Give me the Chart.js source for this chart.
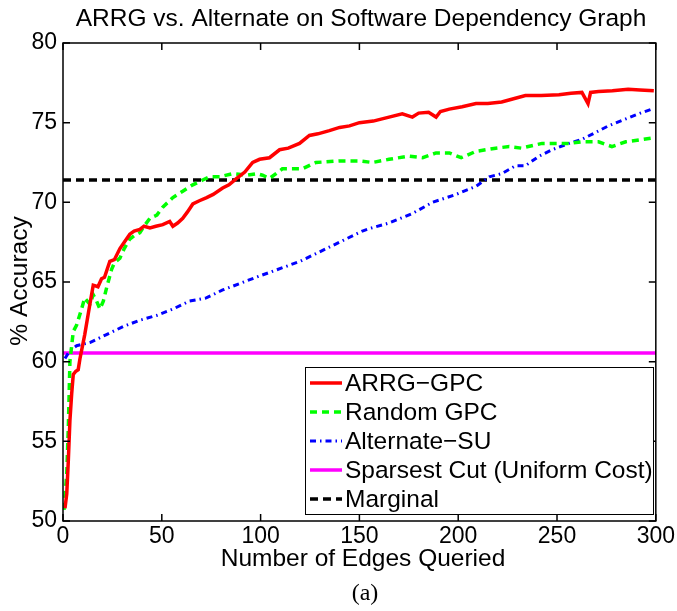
<!DOCTYPE html>
<html>
<head>
<meta charset="utf-8">
<script src="https://cdn.jsdelivr.net/npm/chart.js@4/dist/chart.umd.min.js"></script>
<style>
	body { margin: 0; background: #fff; }
</style>
</head>
<body>
<canvas id="accuracy-chart" width="677" height="611"></canvas>
<script>
( function() {
	'use strict';

	// ARRG-GPC (red, solid)
	var arrgX = [1, 1.9, 2.7, 3.5, 4.4, 5.2, 6.5, 7.7, 8.6, 11, 13.6, 15.3, 17.7, 19.5, 21, 23.7, 26, 28.8, 31, 33.8, 36, 38.9, 41, 44, 47, 50.5, 54, 55.6, 58, 60.6, 63, 65.7, 69, 72.7, 76, 80.8, 84, 87.9, 92, 96, 99.5, 104.5, 109.6, 114, 119.7, 124.7, 129, 134.8, 140, 145, 150, 157, 165, 171.7, 176.8, 180, 185, 188.8, 191, 195.5, 202, 209, 215, 222, 228, 234, 242, 251, 257, 262.6, 265.7, 267, 271, 278, 286, 292, 299];
	var arrgY = [50.8, 51.7, 53.8, 56.3, 58.0, 59.2, 59.4, 59.5, 60.2, 61.7, 63.6, 64.8, 64.7, 65.2, 65.3, 66.3, 66.4, 67.1, 67.5, 68.0, 68.2, 68.3, 68.5, 68.4, 68.5, 68.6, 68.8, 68.5, 68.7, 69.0, 69.4, 69.9, 70.1, 70.3, 70.5, 70.9, 71.1, 71.5, 71.9, 72.5, 72.7, 72.8, 73.3, 73.4, 73.7, 74.2, 74.3, 74.5, 74.7, 74.8, 75.0, 75.1, 75.35, 75.55, 75.35, 75.6, 75.65, 75.35, 75.7, 75.85, 76.0, 76.2, 76.2, 76.3, 76.5, 76.7, 76.7, 76.75, 76.85, 76.9, 76.2, 76.9, 76.95, 77.0, 77.1, 77.05, 77.0];

	// Random GPC (green, dashed)
	var randomX = [0.5, 1.9, 2.7, 3.5, 5.2, 6.9, 9.4, 11, 13.6, 15.3, 17, 18.7, 20.4, 22, 24.6, 26, 28.8, 31, 33.8, 36, 38.9, 41, 44, 47.5, 50.5, 55.6, 60.6, 65.7, 70.7, 74.2, 79.3, 85.9, 92.9, 98, 101, 104.5, 111, 121, 128, 140, 150, 156.6, 165, 175, 182, 188.8, 195.5, 201.5, 209, 219, 225.8, 232, 242.4, 256, 262.6, 271, 277.8, 284.8, 299];
	var randomY = [50.7, 53.0, 55.9, 60.0, 61.9, 62.3, 63.3, 64.0, 63.6, 64.2, 63.8, 63.3, 63.8, 64.6, 65.8, 66.2, 66.5, 67.1, 67.7, 67.9, 68.1, 68.5, 69.0, 69.2, 69.7, 70.3, 70.7, 71.1, 71.4, 71.6, 71.6, 71.8, 71.7, 71.8, 71.7, 71.5, 72.1, 72.1, 72.5, 72.6, 72.6, 72.5, 72.7, 72.9, 72.8, 73.1, 73.1, 72.8, 73.2, 73.4, 73.5, 73.4, 73.7, 73.7, 73.8, 73.8, 73.5, 73.8, 74.05];

	// Alternate-SU (blue, dash-dot)
	var altX = [1, 3.5, 6.9, 13.6, 22, 30.4, 38.9, 47.3, 55.6, 64, 72.5, 80.8, 89.4, 97.8, 104.5, 120, 135, 151.5, 155, 165, 176.8, 187, 199, 209, 215.7, 222, 229, 234, 241, 247.5, 256, 262.6, 269.7, 276, 283, 290, 298];
	var altY = [60.2, 60.7, 61.0, 61.2, 61.7, 62.2, 62.6, 62.9, 63.3, 63.8, 64.0, 64.5, 64.9, 65.3, 65.6, 66.3, 67.2, 68.2, 68.35, 68.7, 69.3, 70.0, 70.5, 71.0, 71.6, 71.8, 72.3, 72.3, 72.9, 73.3, 73.7, 73.95, 74.4, 74.8, 75.15, 75.5, 75.85];

	// constant baselines
	var sparsestValue = 60.55;
	var marginalValue = 71.4;

	var xTicks = [0, 50, 100, 150, 200, 250, 300];
	var yTicks = [50, 55, 60, 65, 70, 75, 80];

	var labels = ["ARRG\u2212GPC", "Random GPC", "Alternate\u2212SU", "Sparsest Cut (Uniform Cost)", "Marginal"];
	var colors = ["#ff0000", "#00ff00", "#0000ff", "#ff00ff", "#000000"];
	var dashes = [[], [7, 5], [6, 4, 1.5, 4], [], [8, 5]];
	var widths = [3.5, 3.5, 3, 3.5, 3.5];

	var tickFont = { family: "'Liberation Sans Narrow', 'Liberation Sans', Arial, sans-serif", size: 23 };
	var textFont = "'Liberation Sans', Arial, sans-serif";

	function points(xs, ys) {
		return xs.map(function(x, i) { return { x: x, y: ys[i] }; });
	}

	function flat(value) {
		return [{ x: xTicks[0], y: value }, { x: xTicks[xTicks.length - 1], y: value }];
	}

	var series = [
		points(arrgX, arrgY),
		points(randomX, randomY),
		points(altX, altY),
		flat(sparsestValue),
		flat(marginalValue)
	];

	var datasets = series.map(function(data, i) {
		return {
			label: labels[i],
			data: data,
			borderColor: colors[i],
			backgroundColor: colors[i],
			borderWidth: widths[i],
			borderDash: dashes[i],
			pointRadius: 0,
			tension: 0,
			fill: false
		};
	});
	// draw order: baselines under the curves like in the figure
	datasets[3].order = 4;
	datasets[4].order = 3;
	datasets[2].order = 2;
	datasets[1].order = 1;
	datasets[0].order = 0;

	/**
	 * Moldura, marcas para dentro, títulos e legenda
	 */
	var decorations = {
		id: 'decorations',
		afterDatasetsDraw: function(chart) {
			var ctx = chart.ctx;
			var area = chart.chartArea;
			var xs = chart.scales.x;
			var ys = chart.scales.y;
			var tl = 7;

			ctx.save();
			ctx.strokeStyle = '#000';
			ctx.lineWidth = 1.5;
			ctx.setLineDash([]);
			ctx.strokeRect(area.left, area.top, area.right - area.left, area.bottom - area.top);

			ctx.beginPath();
			xTicks.forEach(function(v) {
				var px = xs.getPixelForValue(v);
				ctx.moveTo(px, area.bottom); ctx.lineTo(px, area.bottom - tl);
				ctx.moveTo(px, area.top); ctx.lineTo(px, area.top + tl);
			});
			yTicks.forEach(function(v) {
				var py = ys.getPixelForValue(v);
				ctx.moveTo(area.left, py); ctx.lineTo(area.left + tl, py);
				ctx.moveTo(area.right, py); ctx.lineTo(area.right - tl, py);
			});
			ctx.stroke();

			// legenda
			var lx = 305, ly = 367, lw = 348, lh = 147, row = 29;
			ctx.fillStyle = '#fff';
			ctx.fillRect(lx, ly, lw, lh);
			ctx.lineWidth = 1;
			ctx.strokeRect(lx + 0.5, ly + 0.5, lw, lh);
			ctx.font = '24.5px ' + textFont;
			ctx.textBaseline = 'middle';
			ctx.textAlign = 'left';
			chart.data.datasets.forEach(function(ds, i) {
				var cy = ly + 16 + i * row;
				ctx.beginPath();
				ctx.strokeStyle = ds.borderColor;
				ctx.lineWidth = ds.borderWidth;
				ctx.setLineDash(ds.borderDash);
				ctx.moveTo(lx + 5, cy);
				ctx.lineTo(lx + 37, cy);
				ctx.stroke();
				ctx.setLineDash([]);
				ctx.fillStyle = '#000';
				ctx.fillText(ds.label, lx + 40, cy + 1);
			});

			// títulos
			ctx.fillStyle = '#000';
			ctx.textAlign = 'center';
			ctx.textBaseline = 'alphabetic';
			ctx.font = '24.5px ' + textFont;
			ctx.fillText('ARRG vs. Alternate on Software Dependency Graph', 361, 26);
			ctx.fillText('Number of Edges Queried', 363, 566);

			ctx.save();
			ctx.translate(27, 281);
			ctx.rotate(-Math.PI / 2);
			ctx.fillText('% Accuracy', 0, 0);
			ctx.restore();

			ctx.font = "24px 'Liberation Serif', 'Times New Roman', serif";
			ctx.fillText('(a)', 365, 600);
			ctx.restore();
		}
	};

	var ctx = document.getElementById('accuracy-chart');
	var chart = new Chart(ctx, {
		type: 'line',
		data: { datasets: datasets },
		options: {
			responsive: false,
			animation: false,
			layout: { padding: { top: 43, right: 20, left: 0, bottom: 0 } },
			plugins: {
				legend: { display: false },
				title: { display: false },
				tooltip: { enabled: false }
			},
			scales: {
				x: {
					type: 'linear',
					min: 0,
					max: 300,
					afterFit: function(scale) { scale.height = 90; },
					afterBuildTicks: function(scale) {
						scale.ticks = xTicks.map(function(v) { return { value: v }; });
					},
					grid: { display: false, drawTicks: false },
					border: { display: false },
					ticks: { color: '#000', font: tickFont, padding: 2, maxRotation: 0 }
				},
				y: {
					type: 'linear',
					min: 50,
					max: 80,
					afterFit: function(scale) { scale.width = 63; },
					afterBuildTicks: function(scale) {
						scale.ticks = yTicks.map(function(v) { return { value: v }; });
					},
					grid: { display: false, drawTicks: false },
					border: { display: false },
					ticks: { color: '#000', font: tickFont, padding: 6 }
				}
			}
		},
		plugins: [decorations]
	});
})();
</script>
</body>
</html>
